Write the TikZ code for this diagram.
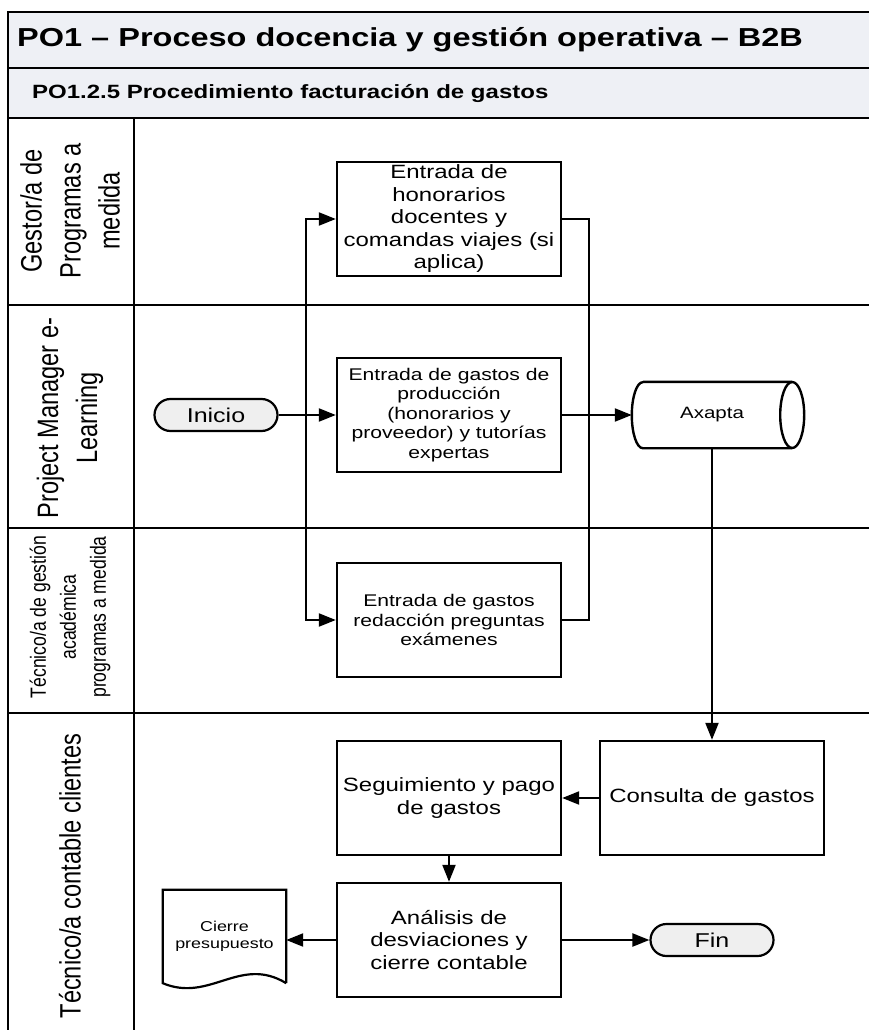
\documentclass[tikz,border=0pt]{standalone}
\usepackage{fontspec}
\setmainfont{Liberation Sans}
\newfontfamily\flatfont[FakeStretch=1.25]{Liberation Sans}
\newfontfamily\tallfont[FakeStretch=0.8]{Liberation Sans}
\usetikzlibrary{arrows.meta,shapes.misc}

\definecolor{headfill}{HTML}{EEF0F5}
\definecolor{termfill}{HTML}{EFEFEF}

\newcommand{\PageW}{869}
\newcommand{\PageH}{1030}
\newcommand{\LaneX}{134}
\newcommand{\FrameR}{900}
\newcommand{\FrameB}{1050}

\tikzset{
  frame/.style={line width=2.8pt},
  procbox/.style={draw, line width=2.4pt, fill=white, minimum width=224pt, minimum height=114pt,
    align=center, inner sep=2pt, font=\flatfont\fontsize{19.2}{22.5}\selectfont},
  smallproc/.style={procbox, font=\flatfont\fontsize{16.9}{19.4}\selectfont},
  terminal/.style={rounded rectangle, draw, line width=2.2pt, fill=termfill, minimum width=123pt,
    minimum height=32pt, inner sep=0pt, font=\flatfont\fontsize{20}{24}\selectfont},
  lanelabel/.style={rotate=90, align=center, inner sep=0pt, font=\tallfont\fontsize{29.5}{39}\selectfont},
  flow/.style={line width=2.2pt, -{Triangle[length=17pt,width=13pt]}},
  link/.style={line width=2.2pt},
}

\begin{document}
\begin{tikzpicture}[x=1pt,y=-1pt]
\useasboundingbox (0,0) rectangle (\PageW,\PageH);
\clip (0,0) rectangle (\PageW,\PageH);

% Pool frame and lanes
\fill[headfill] (8,12) rectangle (\FrameR,118);% header rows
\draw[frame] (\FrameR,12) -- (8,12) -- (8,\FrameB);
\draw[frame] (8,68) -- (\FrameR,68);
\draw[frame] (8,118) -- (\FrameR,118);
\draw[frame] (\LaneX,118) -- (\LaneX,\FrameB);
\foreach \y in {305,528,713}{
    \draw[frame] (8,\y) -- (\FrameR,\y);
}

\node[anchor=west, inner sep=0pt, font=\flatfont\bfseries\fontsize{26}{30}\selectfont] (title) at (17,40)
    {PO1 – Proceso docencia y gestión operativa – B2B};
\node[anchor=west, inner sep=0pt, font=\flatfont\bfseries\fontsize{19.2}{23}\selectfont] (subtitle) at (32,93)
    {PO1.2.5 Procedimiento facturación de gastos};

\node[lanelabel] (laneGestor) at (70,211) {Gestor/a de\\Programas a\\medida};
\node[lanelabel] (lanePM) at (70,418) {Project Manager e-\\Learning};
\node[lanelabel, font=\tallfont\fontsize{22}{30}\selectfont] (laneTec) at (70,617)
    {Técnico/a de gestión\\académica\\programas a medida};
\node[lanelabel] (laneCont) at (70,876) {Técnico/a contable clientes};

% Steps
\node[terminal] (inicio) at (216,415) {Inicio};
\node[procbox] (entHon) at (449,219) {Entrada de\\honorarios\\docentes y\\comandas viajes (si\\aplica)};
\node[smallproc] (entProd) at (449,415) {Entrada de gastos de\\producción\\(honorarios y\\proveedor) y tutorías\\expertas};
\node[smallproc] (entExam) at (449,620) {Entrada de gastos\\redacción preguntas\\exámenes};
\node[minimum width=160pt, minimum height=66pt, inner sep=0pt,
      font=\flatfont\fontsize{16.4}{20}\selectfont] (axapta) at (712,415) {Axapta};
\node[procbox] (consulta) at (712,798) {Consulta de gastos};
\node[procbox] (seguim) at (449,798) {Seguimiento y pago\\de gastos};
\node[procbox] (analisis) at (449,940) {Análisis de\\desviaciones y\\cierre contable};
\node[minimum width=123pt, minimum height=93pt, inner sep=0pt,
      font=\flatfont\fontsize{14.3}{17}\selectfont, align=center] (cierre) at (224.5,936.5) {Cierre\\presupuesto};
\node[terminal] (fin) at (712,940) {Fin};

% Axapta store
\draw[line width=2.4pt] ([xshift=11pt]axapta.north west) -- (axapta.north east)
    (axapta.south east) -- ([xshift=11pt]axapta.south west)
    arc[start angle=270, end angle=90, x radius=11pt, y radius=33pt];
\draw[line width=2.4pt] (axapta.east) ellipse [x radius=12pt, y radius=33pt];

% Cierre document
\draw[line width=2.2pt] (cierre.south east) -- (cierre.north east) -- (cierre.north west) -- (cierre.south west)
    .. controls (210,1003) and (240,955) .. (cierre.south east);

% Connectors
\coordinate (split) at (306,415);
\coordinate (merge) at (589,415);
\draw[flow] (inicio.east) -- (entProd.west);
\draw[flow] (split) |- (entHon.west);
\draw[flow] (split) |- (entExam.west);
\draw[link] (entHon.east) -| (merge);
\draw[link] (entExam.east) -| (merge);
\draw[flow] (entProd.east) -- (axapta.west);
\draw[flow] (axapta.south) -- (consulta.north);
\draw[flow] (consulta.west) -- (seguim.east);
\draw[flow] (seguim.south) -- (analisis.north);
\draw[flow] (analisis.west) -- (analisis.west -| cierre.east);
\draw[flow] (analisis.east) -- (fin.west);
\end{tikzpicture}
\end{document}
